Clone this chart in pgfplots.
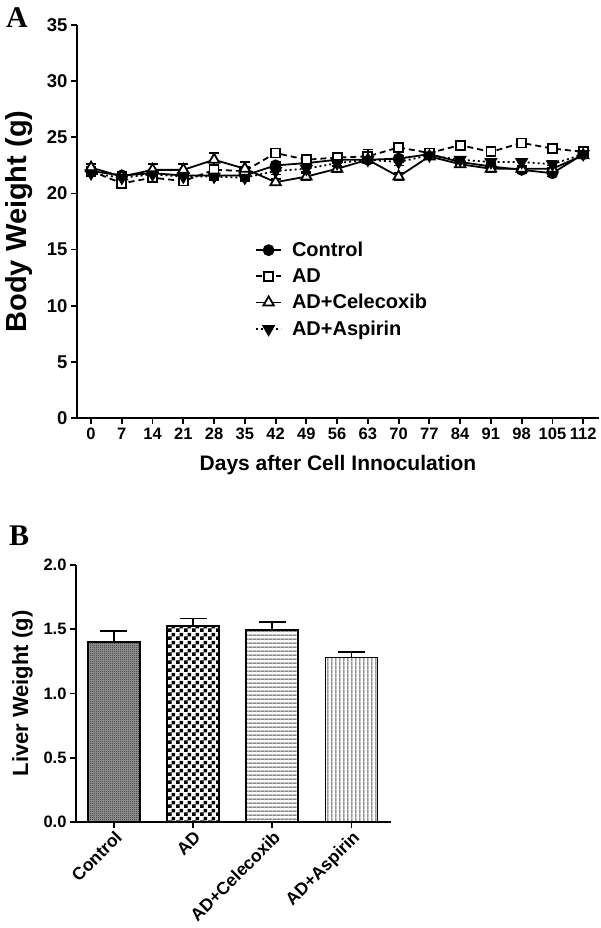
\documentclass[border=0pt]{standalone}
\usepackage{fontspec}
\setmainfont{Liberation Sans}
\newfontfamily\timesfont{Liberation Serif}
\usepackage{pgfplots}
\pgfplotsset{compat=1.18}
\usetikzlibrary{patterns}

\pgfdeclarepatternformonly{finecheck}{\pgfqpoint{0pt}{0pt}}{\pgfqpoint{2pt}{2pt}}{\pgfqpoint{2pt}{2pt}}{%
  \pgfpathrectangle{\pgfqpoint{0pt}{0pt}}{\pgfqpoint{1pt}{1pt}}%
  \pgfpathrectangle{\pgfqpoint{1pt}{1pt}}{\pgfqpoint{1pt}{1pt}}%
  \pgfusepath{fill}}
\pgfdeclarepatternformonly{bigcheck}{\pgfqpoint{0pt}{0pt}}{\pgfqpoint{8pt}{8pt}}{\pgfqpoint{8pt}{8pt}}{%
  \pgfpathrectangle{\pgfqpoint{0pt}{0pt}}{\pgfqpoint{4pt}{4pt}}%
  \pgfpathrectangle{\pgfqpoint{4pt}{4pt}}{\pgfqpoint{4pt}{4pt}}%
  \pgfusepath{fill}}
\pgfdeclarepatternformonly{hlines}{\pgfqpoint{0pt}{0pt}}{\pgfqpoint{4.3pt}{4.3pt}}{\pgfqpoint{4.3pt}{4.3pt}}{%
  \pgfpathrectangle{\pgfqpoint{0pt}{1.5pt}}{\pgfqpoint{4.3pt}{1.4pt}}%
  \pgfusepath{fill}}
\pgfdeclarepatternformonly{vlines}{\pgfqpoint{0pt}{0pt}}{\pgfqpoint{4.3pt}{4.3pt}}{\pgfqpoint{4.3pt}{4.3pt}}{%
  \pgfpathrectangle{\pgfqpoint{1.5pt}{0pt}}{\pgfqpoint{1.4pt}{4.3pt}}%
  \pgfusepath{fill}}

\pgfplotstableread{
day ctl ctle ad ade cel cele asp aspe
0   22.0 0.3 22.0 0.3 22.3 0.3 21.8 0.3
7   21.6 0.3 20.9 0.3 21.5 0.3 21.4 0.3
14  21.8 0.3 21.4 0.3 22.1 0.5 21.7 0.3
21  21.6 0.3 21.1 0.3 22.1 0.5 21.5 0.3
28  21.6 0.3 22.1 0.3 23.0 0.6 21.5 0.3
35  21.6 0.3 22.0 0.3 22.2 0.6 21.4 0.3
42  22.5 0.3 23.6 0.3 21.0 0.3 22.0 0.3
49  22.7 0.3 23.0 0.3 21.5 0.3 22.2 0.3
56  23.0 0.3 23.2 0.3 22.2 0.3 22.7 0.3
63  23.0 0.3 23.3 0.6 23.0 0.3 23.0 0.3
70  23.1 0.3 24.1 0.3 21.5 0.3 22.8 0.3
77  23.5 0.3 23.6 0.3 23.3 0.3 23.4 0.3
84  22.8 0.3 24.3 0.3 22.6 0.3 23.0 0.3
91  22.4 0.3 23.7 0.3 22.2 0.3 22.8 0.3
98  22.1 0.3 24.5 0.3 22.2 0.3 22.8 0.3
105 21.8 0.3 24.0 0.3 22.2 0.3 22.6 0.3
112 23.5 0.3 23.7 0.3 23.4 0.3 23.5 0.3
}\bodytable

\begin{document}
\begin{tikzpicture}
\useasboundingbox (0,0) rectangle (600pt,-928pt);

\node[anchor=north west, inner sep=0pt, font=\timesfont\bfseries\fontsize{30}{30}\selectfont] at (6pt,-7pt) {A};
\node[anchor=north west, inner sep=0pt, font=\timesfont\bfseries\fontsize{30}{30}\selectfont] at (9pt,-526pt) {B};

\begin{axis}[
  scale only axis, width=522pt, height=393pt,
  at={(77pt,-418pt)}, anchor=south west,
  xmin=-3.2, xmax=115.6, ymin=0, ymax=35,
  axis x line=bottom, axis y line=left,
  axis line style={-, line width=1.8pt},
  xtick={0,7,...,112}, ytick={0,5,...,35},
  tick align=outside, major tick length=6pt,
  tick style={line width=1.8pt, black},
  x tick label style={font=\bfseries\fontsize{16.5}{17}\selectfont, text height=12pt, text depth=0pt},
  y tick label style={font=\bfseries\fontsize{18.5}{19}\selectfont},
  /pgf/number format/assume math mode=true,
  xlabel={Days after Cell Innoculation},
  ylabel={Body Weight (g)},
  x label style={at={(axis description cs:0.5,0)}, anchor=center, yshift=-47pt, font=\bfseries\fontsize{21}{21}\selectfont},
  y label style={at={(axis description cs:-0.1102,0.5)}, anchor=center, font=\bfseries\fontsize{29}{29}\selectfont},
  clip=false,
  legend style={at={(0.341,0.453)}, anchor=north west, draw=none, fill=none,
    font=\bfseries\fontsize{20}{20}\selectfont, row sep=6.5pt, inner sep=0pt,
    /tikz/every odd column/.append style={column sep=8pt}},
  legend cell align=left,
  legend image code/.code={\draw[mark repeat=2,mark phase=2,#1] plot coordinates {(0pt,0pt) (12.5pt,0pt) (25pt,0pt)};},
  every axis plot/.append style={black, line width=1.8pt,
    error bars/y dir=both, error bars/y explicit,
    error bars/error bar style={line width=1.5pt, solid},
    error bars/error mark options={rotate=90, mark size=5pt, line width=1.5pt, solid}},
]
\addplot[mark=*, mark size=5pt, mark options={solid}] table[x=day, y=ctl, y error=ctle] {\bodytable};
\addplot[dash pattern=on 6pt off 4pt, mark=square*, mark size=4.5pt, mark options={solid, fill=white}] table[x=day, y=ad, y error=ade] {\bodytable};
\addplot[mark=triangle*, mark size=6pt, mark options={solid, fill=white}] table[x=day, y=cel, y error=cele] {\bodytable};
\addplot[dash pattern=on 2pt off 3pt, mark=triangle*, mark size=6pt, mark options={solid, fill=black, rotate=180}] table[x=day, y=asp, y error=aspe] {\bodytable};
\legend{Control, AD, AD+Celecoxib, AD+Aspirin}
\end{axis}

\begin{axis}[
  scale only axis, width=315pt, height=257pt,
  at={(76pt,-822pt)}, anchor=south west,
  xmin=-0.48, xmax=3.5, ymin=0, ymax=2,
  axis x line=bottom, axis y line=left,
  axis line style={-, line width=1.8pt},
  xtick={0,1,2,3}, xticklabels={Control,AD,AD+Celecoxib,AD+Aspirin},
  ytick={0,0.5,1,1.5,2},
  y tick label style={/pgf/number format/fixed, /pgf/number format/fixed zerofill, /pgf/number format/precision=1, font=\bfseries\fontsize{16.5}{17}\selectfont},
  tick align=outside, major tick length=6pt,
  tick style={line width=1.8pt, black},
  /pgf/number format/assume math mode=true,
  x tick label style={font=\bfseries\fontsize{17.5}{18}\selectfont, rotate=45, anchor=north east, inner sep=1pt},
  ylabel={Liver Weight (g)},
  y label style={at={(axis description cs:-0.1698,0.5)}, anchor=center, font=\bfseries\fontsize{22}{22}\selectfont},
  clip=false,
  every axis plot/.append style={ybar, bar width=52pt, bar shift=0pt, draw=black, line width=1.8pt,
    error bars/y dir=plus, error bars/y explicit,
    error bars/error bar style={line width=1.8pt},
    error bars/error mark options={rotate=90, mark size=13.5pt, line width=1.8pt}},
]
\addplot[fill=black!40, postaction={pattern=finecheck, pattern color=black!85}] coordinates {(0,1.40) +- (0,0.085)};
\addplot[pattern=bigcheck, pattern color=black] coordinates {(1,1.525) +- (0,0.058)};
\addplot[pattern=hlines, pattern color=black!70] coordinates {(2,1.495) +- (0,0.062)};
\addplot[pattern=vlines, pattern color=black!65] coordinates {(3,1.28) +- (0,0.042)};
\end{axis}
\end{tikzpicture}
\end{document}
